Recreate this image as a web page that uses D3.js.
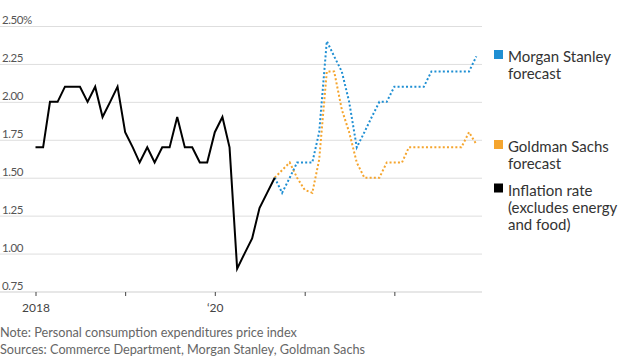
<!DOCTYPE html>
<html><head><meta charset="utf-8">
<script src="https://cdn.jsdelivr.net/npm/d3@7"></script>
<style>
html,body{margin:0;padding:0;background:#fff;}
svg{display:block;font-family:Lato, "Noto Sans", sans-serif;}
</style></head>
<body>
<svg id="c" width="620" height="357"></svg>
<script>
// ---- data ----
const inflationStart = [2018, 0];   // Jan 2018
const inflation = [1.7,1.7,2.0,2.0,2.1,2.1,2.1,2.0,2.1,1.9,2.0,2.1,
                   1.8,1.7,1.6,1.7,1.6,1.7,1.7,1.9,1.7,1.7,1.6,1.6,
                   1.8,1.9,1.7,0.9,1.0,1.1,1.3,1.4,1.5];
const forecastStart = [2020, 8];    // Sep 2020
const morganStanley = [1.5,1.4,1.5,1.6,
                       1.6,1.6,1.8,2.4,2.3,2.2,2.0,1.7,1.8,1.9,2.0,2.0,
                       2.1,2.1,2.1,2.1,2.1,2.2,2.2,2.2,2.2,2.2,2.2,2.3];
const goldmanSachs = [1.5,1.55,1.6,1.5,
                      1.42,1.4,1.62,2.2,2.2,1.95,1.8,1.6,1.5,1.5,1.5,1.6,
                      1.6,1.6,1.7,1.7,1.7,1.7,1.7,1.7,1.7,1.7,1.8,1.72];
const yTicks = [0.75,1.00,1.25,1.50,1.75,2.00,2.25,2.50];
const yTickLabels = ["0.75","1.00","1.25","1.50","1.75","2.00","2.25","2.50%"];
const xTickYears = [2018,2019,2020,2021,2022];
const xTickLabels = ["2018","","\u201820","",""];
const legendItems = [
  {lines:["Morgan Stanley","forecast"], color:"#1f8fd3"},
  {lines:["Goldman Sachs","forecast"], color:"#f5a52e"},
  {lines:["Inflation rate","(excludes energy","and food)"], color:"#000"}
];
const notes = ["Note: Personal consumption expenditures price index",
               "Sources: Commerce Department, Morgan Stanley, Goldman Sachs"];

// ---- build ----
const svg = d3.select("#c");
const x = d3.scaleTime().domain([new Date(2018,0,1), new Date(2023,0,1)]).range([35.5, 484]);
const y = d3.scaleLinear().domain([0.75, 2.5]).range([291.5, 26]);
const gridX0 = 0, gridX1 = 482;

const toSeries = (start, vals) => vals.map((v,i)=>({d:new Date(start[0], start[1]+i, 1), v}));

// gridlines + y labels
const gy = svg.append("g");
gy.selectAll("line").data(yTicks).join("line")
  .attr("x1",gridX0).attr("x2",gridX1)
  .attr("y1",d=>y(d)+0.5).attr("y2",d=>y(d)+0.5)
  .attr("stroke", d=> d===0.75 ? "#cfcfcf" : "#dedede").attr("stroke-width",1);
gy.selectAll("text").data(yTicks).join("text")
  .attr("x",2).attr("y",d=>y(d)-2)
  .attr("font-size",11.5).attr("letter-spacing",-0.4).attr("fill","#555")
  .text((d,i)=>yTickLabels[i]);

// x axis ticks
const xAxis = d3.axisBottom(x)
  .tickValues(xTickYears.map(yr=>new Date(yr,0,1)))
  .tickFormat((d,i)=>xTickLabels[i])
  .tickSize(4).tickPadding(7);
const gx = svg.append("g").attr("transform",`translate(0,${y(0.75)+0.5})`).call(xAxis);
gx.select(".domain").remove();
gx.selectAll(".tick line").attr("stroke","#444").attr("stroke-width",1);
gx.selectAll(".tick text").attr("font-size",12).attr("fill","#444").attr("font-family","Lato, sans-serif");

const line = d3.line().x(p=>x(p.d)).y(p=>y(p.v)).curve(d3.curveLinear);

svg.append("path").datum(toSeries(forecastStart, goldmanSachs))
  .attr("d",line).attr("fill","none").attr("stroke",legendItems[1].color)
  .attr("stroke-width",2).attr("stroke-dasharray","2,2.2");
svg.append("path").datum(toSeries(forecastStart, morganStanley))
  .attr("d",line).attr("fill","none").attr("stroke",legendItems[0].color)
  .attr("stroke-width",2).attr("stroke-dasharray","2,2.2");
svg.append("path").datum(toSeries(inflationStart, inflation))
  .attr("d",line).attr("fill","none").attr("stroke","#000")
  .attr("stroke-width",2).attr("stroke-linejoin","miter");

// legend
const legTops = [62, 152, 195.5];
const lg = svg.append("g");
legendItems.forEach((it,k)=>{
  const g = lg.append("g");
  g.append("rect").attr("x",494).attr("y",legTops[k]-12).attr("width",9).attr("height",9).attr("fill",it.color);
  const t = g.append("text").attr("x",508).attr("y",legTops[k]).attr("font-size",15).attr("fill","#333");
  it.lines.forEach((s,j)=>t.append("tspan").attr("x",508).attr("dy", j===0?0:17).text(s));
});

// notes
svg.selectAll("text.note").data(notes).join("text").attr("class","note")
  .attr("x",0).attr("y",(d,i)=>336.5+i*17.5)
  .attr("font-size",12.7).attr("fill","#666").text(d=>d);
</script>
</body></html>
